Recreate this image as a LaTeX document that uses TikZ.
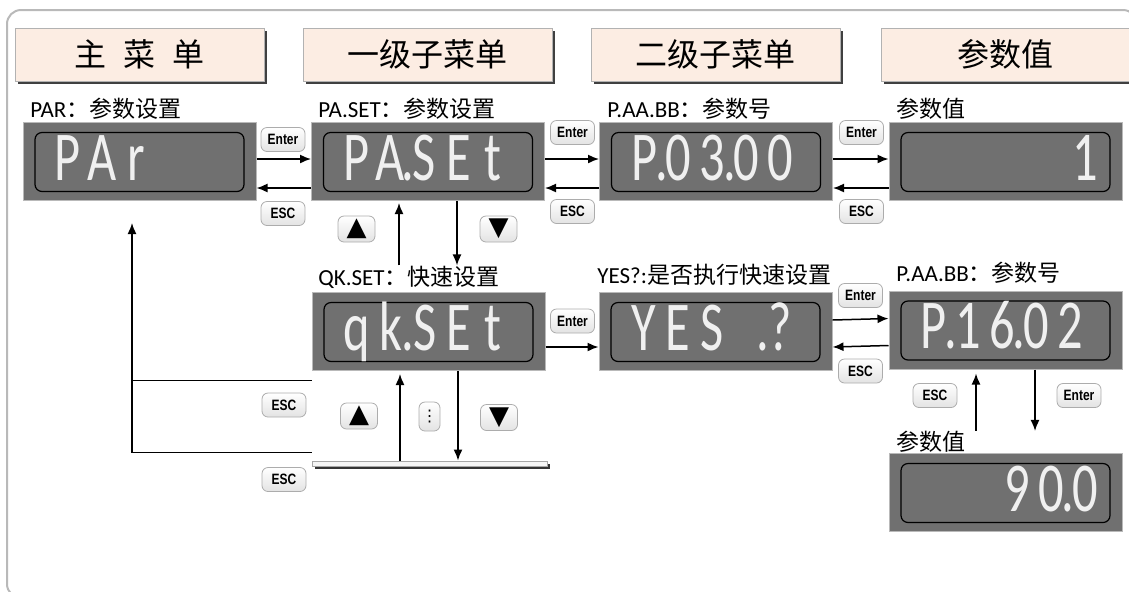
\documentclass[tikz,border=0pt]{standalone}
\usepackage{fontspec}
\setmainfont{Carlito}
\newfontfamily\cjk{Noto Sans CJK SC}
\newfontfamily\segfont{Carlito}[FakeStretch=0.72]
\newfontfamily\keyfont{Liberation Sans}[FakeStretch=0.8]
\newfontfamily\symfont{DejaVu Sans}
\usetikzlibrary{arrows.meta,shadows}
\definecolor{dispgray}{HTML}{707070}
\definecolor{segwhite}{HTML}{F0F0F0}
\definecolor{headfill}{HTML}{FCEDE3}
\newlength{\segw}
\setlength{\segw}{17pt}
% one cell per character, the point takes no cell
\newcommand{\segtext}[1]{\segnext#1\relax}
\def\segnext#1{\ifx#1\relax\else\ifx#1.\makebox[0pt]{.}\else\makebox[\segw]{#1}\fi\expandafter\segnext\fi}
\newcommand{\zh}[1]{{\cjk #1}}

\begin{document}
\begin{tikzpicture}[x=0.5pt,y=-0.5pt,
    head/.style={fill=headfill, draw=gray!60, minimum width=124.5pt, minimum height=26.5pt, inner sep=0pt,
      font=\cjk\fontsize{16}{16}\selectfont,
      drop shadow={shadow xshift=1.5pt, shadow yshift=-1.5pt, fill=black!75, opacity=1}},
    lbl/.style={anchor=west, inner sep=0pt, font=\fontsize{11.5}{12}\selectfont},
    disp/.style={fill=dispgray, draw=gray!55, line width=0.5pt, minimum width=116.5pt, minimum height=39pt,
      text width=96.5pt, inner xsep=10pt, inner ysep=0pt, text height=23.5pt, text depth=5pt, align=left,
      text=segwhite, font=\segfont\fontsize{35}{35}\selectfont, execute at begin node={\hspace*{4pt}},
      path picture={\draw[black, line width=0.6pt, rounded corners=3.5pt]
        ([shift={(6pt,-5pt)}]path picture bounding box.north west) rectangle
        ([shift={(-6pt,4.5pt)}]path picture bounding box.south east);}},
    dispr/.style={disp, align=right, execute at begin node={}},
    key/.style={draw=gray!65, rounded corners=3pt, top color=white, bottom color=gray!22,
      minimum width=22pt, minimum height=12pt, inner sep=0pt, font=\keyfont\bfseries\fontsize{7.5}{8}\selectfont},
    tri/.style={key, minimum width=18.5pt, minimum height=13pt, font=\symfont\fontsize{13}{13}\selectfont},
    dotkey/.style={key, minimum width=10.5pt, minimum height=14.5pt, font=\symfont\fontsize{8}{8}\selectfont},
    arr/.style={-{Latex[length=5.5pt,width=4.5pt]}, line width=0.75pt},
    wire/.style={line width=0.75pt}]
  \useasboundingbox (0,0) rectangle (1129,591);
  \draw[gray!55, line width=1pt, rounded corners=7pt] (7,10) rectangle (1137,598);

  % column heads
  \node[head] (h1) at (139.5,54.5) {主\hspace{8.5pt}菜\hspace{8.5pt}单};
  \node[head] (h2) at (427.5,54.5) {一级子菜单};
  \node[head] (h3) at (715.5,54.5) {二级子菜单};
  \node[head] (h4) at (1005.5,54.5) {参数值};

  % first row
  \node[lbl] (lpa) at (30,109) {PAR\zh{：参数设置}};
  \node[lbl] (lpaset) at (318,109) {PA.SET\zh{：参数设置}};
  \node[lbl] (lp1) at (607,109) {P.AA.BB\zh{：参数号}};
  \node[lbl] (lv1) at (896,109) {\zh{参数值}};
  \node[disp] (pa) at (139.5,161.5) {\segtext{PAr}};
  \node[disp] (paset) at (428,161.5) {\segtext{PA.SEt}};
  \node[disp] (p0300) at (716,161.5) {\segtext{P.03.00}};
  \node[dispr] (val1) at (1005.5,161.5) {\segtext{1}};

  \node[key] (en1) at (283,139.5) {Enter};
  \node[key] (es1) at (283,213.5) {ESC};
  \node[key] (en2) at (572.5,132.5) {Enter};
  \node[key] (es2) at (572.5,211.5) {ESC};
  \node[key] (en3) at (861.5,132.5) {Enter};
  \node[key] (es3) at (861.5,211.5) {ESC};
  \node[tri] (up1) at (356.5,229) {▲};
  \node[tri] (dn1) at (498.5,229) {▼};

  \draw[arr] ([yshift=1.25pt]pa.east) -- ([yshift=1.25pt]paset.west);
  \draw[arr] ([yshift=-13.25pt]paset.west) -- ([yshift=-13.25pt]pa.east);
  \draw[arr] ([yshift=1.25pt]paset.east) -- ([yshift=1.25pt]p0300.west);
  \draw[arr] ([yshift=-13.25pt]p0300.west) -- ([yshift=-13.25pt]paset.east);
  \draw[arr] ([yshift=1.25pt]p0300.east) -- ([yshift=1.25pt]val1.west);
  \draw[arr] ([yshift=-13.25pt]val1.west) -- ([yshift=-13.25pt]p0300.east);

  % second row
  \node[lbl] (lqk) at (318,277) {QK.SET\zh{：快速设置}};
  \node[lbl] (lyes) at (597,275) {YES?:\zh{是否执行快速设置}};
  \node[lbl] (lp2) at (896,273) {P.AA.BB\zh{：参数号}};
  \node[disp] (qk) at (428.5,331.5) {\segtext{qk.SEt}};
  \node[disp] (yes) at (715.5,331.5) {\segtext{YES~.?}};
  \node[disp] (p1602) at (1005.5,330) {\segtext{P.16.02}};

  \node[key] (en4) at (572.5,321) {Enter};
  \node[key] (en5) at (860.5,295.5) {Enter};
  \node[key] (es5) at (860.5,371) {ESC};

  \draw[arr] ([xshift=-14.5pt]paset.south |- lqk.north) -- ([xshift=-14.5pt,yshift=-1pt]paset.south);
  \draw[arr] ([xshift=14.5pt]paset.south) -- ([xshift=14.5pt]paset.south |- lqk.north);
  \draw[arr] ([yshift=-7.75pt]qk.east) -- ([yshift=-7.75pt]yes.west);
  \draw[arr] ([yshift=5.75pt]yes.east) -- ([yshift=5.75pt]p1602.west);
  \draw[arr] ([yshift=-7.75pt]p1602.west) -- ([yshift=-7.75pt]yes.east);

  % quick list end
  \node[fill=gray!8, draw=gray!70, line width=0.5pt, minimum width=117.5pt, minimum height=2.5pt, inner sep=0pt,
    drop shadow={shadow xshift=1.5pt, shadow yshift=-1.5pt, fill=black!80, opacity=1}] (bar) at (429.5,463.5) {};
  \node[key] (es6) at (284,405) {ESC};
  \node[key] (es7) at (284,479.5) {ESC};
  \node[tri] (up2) at (359,416) {▲};
  \node[dotkey] (more) at (429.5,416.5) {⋮};
  \node[tri] (dn2) at (499,417.5) {▼};

  \draw[arr] ([xshift=-14.25pt]qk.south |- bar.north) -- ([xshift=-14.25pt,yshift=-1.5pt]qk.south);
  \draw[arr] ([xshift=14.75pt]qk.south) -- ([xshift=14.75pt]qk.south |- bar.north);
  \coordinate (lft) at ([xshift=-3.75pt,yshift=-11pt]pa.south);
  \draw[wire] ([yshift=-4.75pt]qk.south west) -- ([yshift=-4.75pt]qk.south west -| lft);
  \draw[arr] ([yshift=4pt]bar.north west) -| (lft);

  % value column
  \node[lbl] (lv2) at (896,442) {\zh{参数值}};
  \node[dispr] (val2) at (1005.5,492.5) {\segtext{90.0}};
  \node[key] (es8) at (935,395.5) {ESC};
  \node[key] (en6) at (1079,395.5) {Enter};
  \draw[arr] ([xshift=-14.75pt]p1602.south |- lv2.north) -- ([xshift=-14.75pt,yshift=-2pt]p1602.south);
  \draw[arr] ([xshift=14.75pt]p1602.south) -- ([xshift=14.75pt]p1602.south |- lv2.north);
\end{tikzpicture}
\end{document}
